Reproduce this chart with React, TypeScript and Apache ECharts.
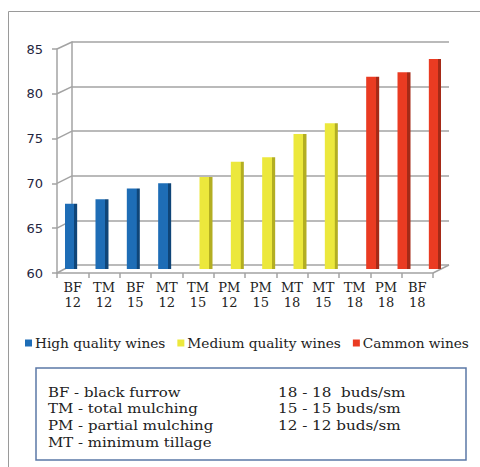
import React, { useEffect, useRef } from "react";
import * as echarts from "echarts";

const categories = ["BF 12", "TM 12", "BF 15", "MT 12", "TM 15", "PM 12", "PM 15", "MT 18", "MT 15", "TM 18", "PM 18", "BF 18"];
const highQuality = [67.3, 67.8, 69.0, 69.6, null, null, null, null, null, null, null, null];
const mediumQuality = [null, null, null, null, 70.3, 72.0, 72.5, 75.1, 76.3, null, null, null];
const commonWines = [null, null, null, null, null, null, null, null, null, 81.5, 82.0, 83.5];
const seriesNames = ["High quality wines", "Medium quality wines", "Cammon wines"];
const yTicks = [60, 65, 70, 75, 80, 85];
const notesLeft = ["BF - black furrow", "TM - total mulching", "PM - partial mulching", "MT - minimum tillage"];
const notesRight = ["18 - 18  buds/sm", "15 - 15 buds/sm", "12 - 12 buds/sm"];

const SERIF = "DejaVu Serif";
const mainColors = ["#1e6db6", "#ece83c", "#ea3b22"];
const sideColors = ["#0f4578", "#b3ae22", "#a52a17"];

function grad(i: number) {
  return new echarts.graphic.LinearGradient(0, 0, 1, 0, [
    { offset: 0, color: mainColors[i] },
    { offset: 0.74, color: mainColors[i] },
    { offset: 0.76, color: sideColors[i] },
    { offset: 1, color: sideColors[i] },
  ]);
}

export default function App() {
  const ref = useRef<HTMLDivElement>(null);
  useEffect(() => {
    if (!ref.current) return;
    const chart = echarts.init(ref.current, undefined, { renderer: "svg" });
    const gridColor = "#a3a3a3";
    const FRONT_L = 57, FRONT_R = 433, BACK_L = 72, BACK_R = 449;
    const option: any = {
      animation: false,
      backgroundColor: "#ffffff",
      grid: [
        { left: 65, right: 39, top: 45.5, bottom: 198 },
        { left: BACK_L, right: 480 - BACK_R, top: 42, bottom: 202 },
        { left: FRONT_L, right: 480 - FRONT_R, top: 49, bottom: 194 },
      ],
      xAxis: [
        { type: "category", gridIndex: 0, data: categories, show: false },
        { type: "category", gridIndex: 1, data: categories, show: false },
        {
          type: "category",
          gridIndex: 2,
          data: categories,
          axisLine: { show: true, lineStyle: { color: gridColor, width: 1.5 } },
          axisTick: { show: true, length: 5, lineStyle: { color: gridColor, width: 1.5 } },
          axisLabel: {
            margin: 7,
            fontFamily: SERIF,
            fontSize: 13,
            lineHeight: 15,
            color: "#222",
            interval: 0,
            formatter: (v: string) => v.replace(" ", "\n"),
          },
        },
      ],
      yAxis: [
        { type: "value", gridIndex: 0, min: 60, max: 85, interval: 5, show: false },
        {
          type: "value",
          gridIndex: 1,
          min: 60,
          max: 85,
          interval: 5,
          axisLine: { show: true, lineStyle: { color: gridColor, width: 1.5 } },
          axisTick: { show: false },
          axisLabel: { show: false },
          splitLine: { show: true, lineStyle: { color: gridColor, width: 1.5 } },
        },
        {
          type: "value",
          gridIndex: 2,
          min: 60,
          max: 85,
          interval: 5,
          axisLine: { show: true, lineStyle: { color: gridColor, width: 1.5 } },
          axisTick: { show: true, length: 5, lineStyle: { color: gridColor, width: 1.5 } },
          axisLabel: { margin: 14, fontFamily: "DejaVu Sans", fontSize: 13, color: "#1f2540" },
          splitLine: { show: false },
        },
      ],
      legend: {
        left: 20,
        top: 331,
        itemWidth: 7,
        itemHeight: 7,
        itemGap: 12,
        icon: "rect",
        textStyle: { fontFamily: SERIF, fontSize: 13.7, color: "#222", padding: [0, 0, 0, -2] },
        data: seriesNames.map((n, i) => ({ name: n, itemStyle: { color: mainColors[i] } })),
      },
      series: [highQuality, mediumQuality, commonWines].map((d, i) => ({
        type: "bar",
        name: seriesNames[i],
        xAxisIndex: 0,
        yAxisIndex: 0,
        data: d,
        barWidth: 13,
        barGap: "-23%",
        z: 3,
        itemStyle: { color: grad(i) },
      })),
    };
    chart.setOption(option);

    const graphics: any[] = [];
    yTicks.forEach((v) => {
      const yF = chart.convertToPixel({ yAxisIndex: 2 } as any, v) as number;
      const yB = chart.convertToPixel({ yAxisIndex: 1 } as any, v) as number;
      graphics.push({
        type: "line",
        shape: { x1: FRONT_L, y1: yF, x2: BACK_L, y2: yB },
        style: { stroke: gridColor, lineWidth: 1.5 },
        z: 1,
      });
    });
    const yF0 = chart.convertToPixel({ yAxisIndex: 2 } as any, yTicks[0]) as number;
    const yB0 = chart.convertToPixel({ yAxisIndex: 1 } as any, yTicks[0]) as number;
    graphics.push({
      type: "line",
      shape: { x1: FRONT_R, y1: yF0, x2: BACK_R, y2: yB0 },
      style: { stroke: gridColor, lineWidth: 1.5 },
      z: 1,
    });
    graphics.push({
      type: "polyline",
      shape: { points: [[8.5, 467], [8.5, 11.5], [480, 11.5]] },
      style: { stroke: "#9a9a9a", lineWidth: 1, fill: null },
    });
    graphics.push({
      type: "rect",
      shape: { x: 36, y: 368, width: 430, height: 92 },
      style: { stroke: "#5b78a6", lineWidth: 1.5, fill: "#ffffff" },
    });
    notesLeft.forEach((t, i) => {
      graphics.push({
        type: "text",
        x: 48,
        y: 392 + i * 16.7,
        scaleX: 1.15,
        style: { text: t, font: `13px "${SERIF}"`, fill: "#222", textVerticalAlign: "middle" },
      });
    });
    notesRight.forEach((t, i) => {
      graphics.push({
        type: "text",
        x: 278,
        y: 392 + i * 16.7,
        scaleX: 1.17,
        style: { text: t, font: `13px "${SERIF}"`, fill: "#222", textVerticalAlign: "middle" },
      });
    });
    chart.setOption({ graphic: graphics });

    return () => chart.dispose();
  }, []);
  return <div ref={ref} style={{ position: "fixed", left: 0, top: 0, width: 480, height: 467 }} />;
}
